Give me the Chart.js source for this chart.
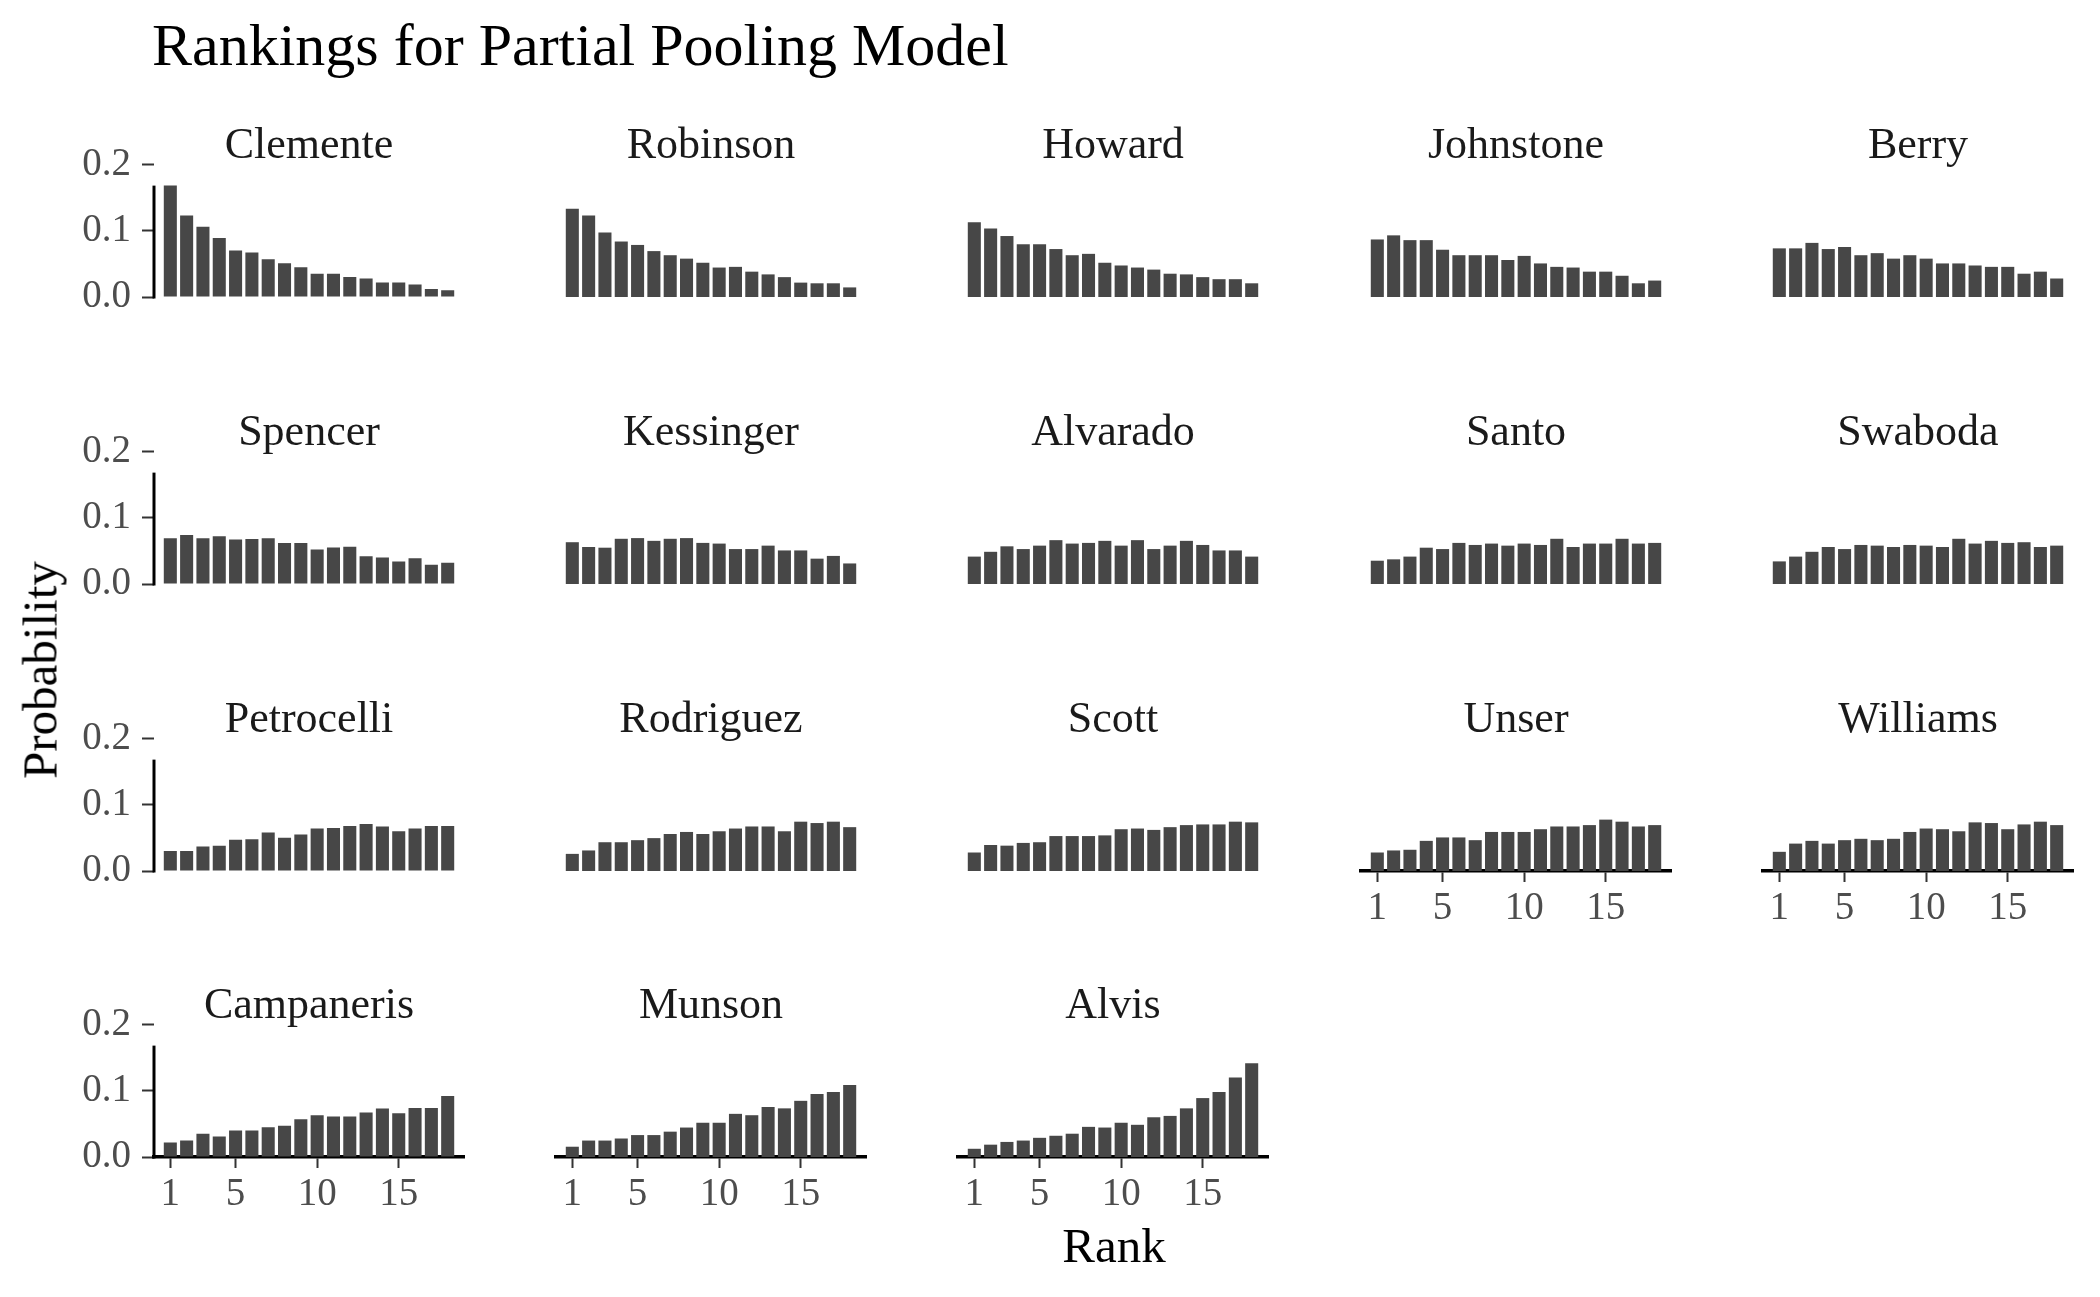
<!DOCTYPE html>
<html>
<head>
<meta charset="utf-8">
<title>Rankings for Partial Pooling Model</title>
<script src="https://cdn.jsdelivr.net/npm/chart.js@4.4.1/dist/chart.umd.min.js"></script>
<style>
    html, body { margin: 0; padding: 0; background: #fff; }
    #page { position: relative; width: 2100px; height: 1297px; overflow: hidden;
            font-family: "Liberation Serif", "DejaVu Serif", serif; }
    canvas { position: absolute; }
    .txt { position: absolute; line-height: 1; white-space: nowrap; color: #000; z-index: 2; }
    .strip { font-size: 44px; color: #1a1a1a; transform: translateX(-50%); }
</style>
</head>
<body>
<div id="page">
    <div class="txt" style="left:152px; top:15px; font-size:60px;">Rankings for Partial Pooling Model</div>
    <div class="txt" style="left:1114px; top:1221px; font-size:49px; transform:translateX(-50%);">Rank</div>
    <div class="txt" style="left:40px; top:670px; font-size:49px; transform:translate(-50%,-50%) rotate(-90deg);">Probability</div>
</div>
<script>
// rank positions (x) and tick labels
const ranks = [1, 2, 3, 4, 5, 6, 7, 8, 9, 10, 11, 12, 13, 14, 15, 16, 17, 18];
const xTicks = [1, 5, 10, 15];
const yTicks = [0, 0.1, 0.2];

// facet order, row by row
const players = ["Clemente", "Robinson", "Howard", "Johnstone", "Berry",
                 "Spencer", "Kessinger", "Alvarado", "Santo", "Swaboda",
                 "Petrocelli", "Rodriguez", "Scott", "Unser", "Williams",
                 "Campaneris", "Munson", "Alvis"];

// probability of each rank, per player
const clemente   = [0.168, 0.123, 0.106, 0.089, 0.070, 0.067, 0.057, 0.051, 0.045, 0.035, 0.035, 0.030, 0.028, 0.022, 0.022, 0.019, 0.012, 0.010];
const robinson   = [0.129, 0.119, 0.094, 0.081, 0.076, 0.067, 0.061, 0.056, 0.050, 0.043, 0.044, 0.037, 0.033, 0.029, 0.021, 0.020, 0.020, 0.014];
const howard     = [0.109, 0.100, 0.089, 0.077, 0.077, 0.070, 0.061, 0.063, 0.050, 0.046, 0.043, 0.040, 0.034, 0.033, 0.029, 0.026, 0.026, 0.020];
const johnstone  = [0.084, 0.090, 0.083, 0.083, 0.069, 0.061, 0.061, 0.061, 0.054, 0.060, 0.049, 0.044, 0.043, 0.037, 0.037, 0.031, 0.020, 0.024];
const berry      = [0.071, 0.071, 0.079, 0.070, 0.073, 0.061, 0.064, 0.056, 0.061, 0.056, 0.049, 0.049, 0.046, 0.044, 0.044, 0.034, 0.037, 0.027];
const spencer    = [0.069, 0.074, 0.069, 0.072, 0.067, 0.068, 0.069, 0.062, 0.062, 0.052, 0.055, 0.056, 0.042, 0.040, 0.034, 0.039, 0.029, 0.032];
const kessinger  = [0.061, 0.054, 0.053, 0.066, 0.067, 0.063, 0.066, 0.067, 0.060, 0.059, 0.051, 0.051, 0.056, 0.049, 0.049, 0.037, 0.041, 0.030];
const alvarado   = [0.040, 0.047, 0.055, 0.051, 0.056, 0.064, 0.059, 0.060, 0.063, 0.056, 0.064, 0.051, 0.056, 0.063, 0.057, 0.049, 0.049, 0.040];
const santo      = [0.034, 0.036, 0.040, 0.053, 0.051, 0.060, 0.057, 0.059, 0.056, 0.059, 0.057, 0.066, 0.054, 0.059, 0.059, 0.066, 0.059, 0.060];
const swaboda    = [0.033, 0.040, 0.047, 0.054, 0.051, 0.057, 0.056, 0.054, 0.057, 0.056, 0.054, 0.066, 0.059, 0.063, 0.060, 0.061, 0.054, 0.056];
const petrocelli = [0.030, 0.030, 0.037, 0.038, 0.047, 0.048, 0.058, 0.050, 0.055, 0.064, 0.065, 0.068, 0.071, 0.067, 0.060, 0.064, 0.068, 0.068];
const rodriguez  = [0.025, 0.030, 0.042, 0.042, 0.045, 0.048, 0.054, 0.057, 0.054, 0.058, 0.062, 0.065, 0.065, 0.058, 0.072, 0.070, 0.072, 0.064];
const scott      = [0.027, 0.038, 0.037, 0.041, 0.042, 0.051, 0.051, 0.051, 0.052, 0.061, 0.062, 0.060, 0.064, 0.067, 0.068, 0.068, 0.072, 0.071];
const unser      = [0.027, 0.030, 0.031, 0.044, 0.049, 0.049, 0.045, 0.057, 0.057, 0.057, 0.061, 0.065, 0.065, 0.067, 0.075, 0.072, 0.065, 0.067];
const williams   = [0.028, 0.040, 0.044, 0.040, 0.045, 0.047, 0.045, 0.047, 0.057, 0.062, 0.061, 0.058, 0.071, 0.070, 0.061, 0.068, 0.072, 0.067];
const campaneris = [0.022, 0.025, 0.035, 0.031, 0.040, 0.040, 0.045, 0.047, 0.057, 0.063, 0.061, 0.061, 0.067, 0.073, 0.066, 0.074, 0.074, 0.092];
const munson     = [0.015, 0.024, 0.024, 0.027, 0.032, 0.032, 0.037, 0.043, 0.050, 0.050, 0.063, 0.061, 0.073, 0.071, 0.082, 0.092, 0.095, 0.105];
const alvis      = [0.012, 0.018, 0.022, 0.024, 0.028, 0.031, 0.034, 0.044, 0.043, 0.050, 0.047, 0.058, 0.060, 0.071, 0.086, 0.095, 0.116, 0.137];

const probs = [clemente, robinson, howard, johnstone, berry,
               spencer, kessinger, alvarado, santo, swaboda,
               petrocelli, rodriguez, scott, unser, williams,
               campaneris, munson, alvis];

// facet grid geometry
const N_COLS = 5;
const PLOT_W = 310, PLOT_H = 137;
const Y_AXIS_W = 140, X_AXIS_H = 80, PAD_TOP = 30, PAD_RIGHT = 10;
const FONT = "'Liberation Serif', 'DejaVu Serif', serif";
const BAR_COLOR = "#474747";
const TICK_TEXT = "#4d4d4d";

// y axis line only spans the data range (0 .. highest bar of all facets)
const frameTop = Math.max(...probs.flat());

const rangeFrame = {
    id: "rangeFrame",
    afterDraw(chart, args, opts) {
        if (!opts.show) return;
        const ctx = chart.ctx;
        const y = chart.scales.y;
        const x0 = chart.chartArea.left;
        ctx.save();
        ctx.strokeStyle = "#000";
        ctx.lineWidth = 3;
        ctx.beginPath();
        ctx.moveTo(x0, y.getPixelForValue(0) + 1.5);
        ctx.lineTo(x0, y.getPixelForValue(frameTop));
        ctx.stroke();
        ctx.restore();
    }
};

function hasXAxis(i) {
    // bottom facet of each column
    return i + N_COLS >= players.length;
}

function makePanel(i) {
    const row = Math.floor(i / N_COLS);
    const col = i % N_COLS;
    const plotLeft = Math.round(154 + col * 402.2);
    const base = Math.round(297.3 + row * 286.7);
    const showY = col === 0;
    const showX = hasXAxis(i);

    const page = document.getElementById("page");

    const strip = document.createElement("div");
    strip.className = "txt strip";
    strip.textContent = players[i];
    strip.style.left = (plotLeft + PLOT_W / 2) + "px";
    strip.style.top = (base - PLOT_H - 38) + "px";
    page.appendChild(strip);

    const canvas = document.createElement("canvas");
    const w = Y_AXIS_W + PLOT_W + PAD_RIGHT;
    const h = PAD_TOP + PLOT_H + X_AXIS_H;
    canvas.width = w;
    canvas.height = h;
    canvas.style.width = w + "px";
    canvas.style.height = h + "px";
    canvas.style.left = (plotLeft - Y_AXIS_W) + "px";
    canvas.style.top = (base - PLOT_H - PAD_TOP) + "px";
    page.appendChild(canvas);

    new Chart(canvas.getContext("2d"), {
        type: "bar",
        data: {
            datasets: [{
                data: ranks.map((r, k) => ({ x: r, y: probs[i][k] })),
                backgroundColor: BAR_COLOR,
                borderWidth: 0,
                barPercentage: 0.8,
                categoryPercentage: 1
            }]
        },
        options: {
            responsive: false,
            animation: false,
            layout: { padding: { top: PAD_TOP, right: PAD_RIGHT, bottom: 0, left: 0 } },
            plugins: {
                legend: { display: false },
                tooltip: { enabled: false },
                rangeFrame: { show: showY }
            },
            scales: {
                x: {
                    type: "linear",
                    min: 0,
                    max: 19,
                    offset: false,
                    afterBuildTicks: s => { s.ticks = xTicks.map(v => ({ value: v })); },
                    afterFit: s => { s.height = X_AXIS_H; },
                    grid: { display: showX, offset: false, drawOnChartArea: false, drawTicks: true,
                            tickLength: 11, tickWidth: 2, tickColor: "#333" },
                    border: { display: showX, color: "#000", width: 3.5 },
                    ticks: { display: showX, color: TICK_TEXT, font: { family: FONT, size: 39 },
                             padding: 3, maxRotation: 0, autoSkip: false }
                },
                y: {
                    min: 0,
                    max: 0.2,
                    afterBuildTicks: s => { s.ticks = yTicks.map(v => ({ value: v })); },
                    afterFit: s => { s.width = Y_AXIS_W; },
                    grid: { display: showY, drawOnChartArea: false, drawTicks: true,
                            tickLength: 12, tickWidth: 2, tickColor: "#333" },
                    border: { display: false },
                    ticks: { display: showY, color: TICK_TEXT, font: { family: FONT, size: 39 },
                             padding: 11, callback: v => v.toFixed(1) }
                }
            }
        },
        plugins: [rangeFrame]
    });
}

document.addEventListener("DOMContentLoaded", () => {
    for (let i = 0; i < players.length; i++) makePanel(i);
});
</script>
</body>
</html>
